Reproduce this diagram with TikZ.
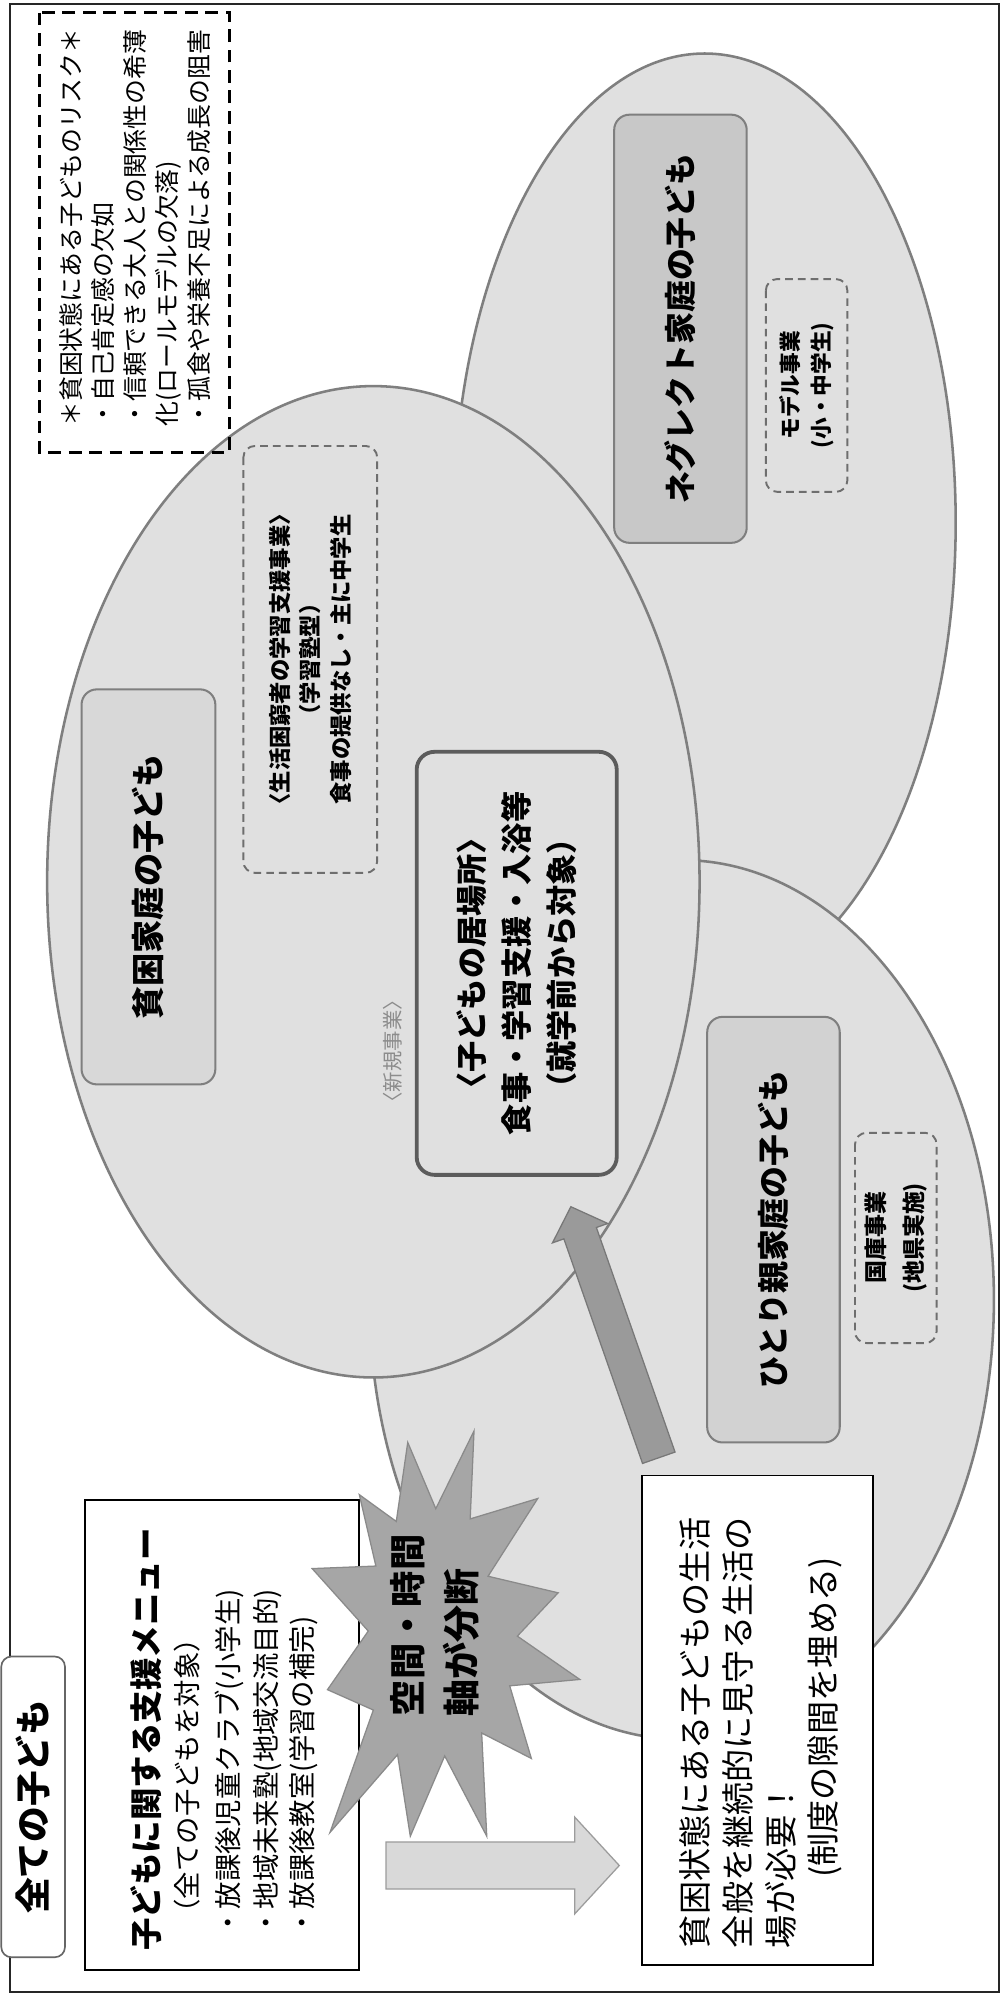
\documentclass[tikz,border=0pt]{standalone}
\usepackage{fontspec}
\setmainfont{Noto Sans CJK JP}
\usetikzlibrary{calc}
\newcommand\fsz[2]{\fontsize{#1}{#2}\selectfont}
\definecolor{ellfill}{HTML}{E0E0E0}
\definecolor{ellline}{HTML}{7F7F7F}
\definecolor{labfillA}{HTML}{C8C8C8}
\definecolor{labfillB}{HTML}{D2D2D2}
\definecolor{labfillC}{HTML}{D8D8D8}
\definecolor{dashline}{HTML}{6E6E6E}
\definecolor{burstfill}{HTML}{A6A6A6}
\definecolor{burstline}{HTML}{8A8A8A}
\definecolor{darkarr}{HTML}{9A9A9A}
\definecolor{darkarrline}{HTML}{787878}
\definecolor{lightarr}{HTML}{D9D9D9}
\definecolor{lightarrline}{HTML}{9C9C9C}
\definecolor{ibaline}{HTML}{5C5C5C}
\begin{document}
\begin{tikzpicture}[x=1pt,y=-1pt,
  ell/.style={fill=ellfill,draw=ellline,line width=2pt},
  labbox/.style={rotate=90,draw=ellline,line width=1.6pt,rounded corners=12pt,inner sep=0pt,font=\bfseries\fsz{25}{30}},
  subbox/.style={rotate=90,draw=dashline,dash pattern=on 6pt off 4pt,line width=1.5pt,rounded corners=9pt,inner sep=0pt,align=center},
  txt/.style={rotate=90,inner sep=0pt,anchor=west},
  whitebox/.style={rotate=90,draw=black,fill=white,line width=1.4pt,inner sep=0pt}
]
\useasboundingbox (0,0) rectangle (789,1568);
\fill[white] (0,0) rectangle (789,1568);
% outer frame
\draw[line width=1.5pt,black!85] (8,3) rectangle (784,1563);

% ellipses
\coordinate (negE) at (553,410);
\draw[ell] (negE) ellipse [x radius=197, y radius=368];
\coordinate (hitE) at (535,1020);
\draw[ell] (hitE) ellipse [x radius=245, y radius=345];
\coordinate (povE) at (293,692);
\draw[ell] (povE) ellipse [x radius=256, y radius=389];

% risk box
\draw[black,line width=2.4pt,dash pattern=on 10pt off 6pt] (31,10) rectangle (180,355);
\node[txt,align=left,font=\fsz{19.5}{25}] (risk) at (106,335)
 {＊貧困状態にある子どものリスク＊\\・自己肯定感の欠如\\・信頼できる大人との関係性の希薄\\化(ロールモデルの欠落)\\・孤食や栄養不足による成長の阻害};

% neglect
\node[labbox,fill=labfillA,minimum width=336pt,minimum height=104pt] (neg) at (534,258) {ネグレクト家庭の子ども};
\node[subbox,minimum width=167pt,minimum height=64pt,font=\bfseries\fsz{17}{24}] (model) at (633,302.5) {モデル事業\\(小・中学生)};

% single parent
\node[labbox,fill=labfillB,minimum width=334pt,minimum height=104pt] (hit) at (607,965) {ひとり親家庭の子ども};
\node[subbox,minimum width=165pt,minimum height=64pt,font=\bfseries\fsz{18}{30}] (kokko) at (703,971.5) {国庫事業\\(地県実施)};

% poverty
\node[labbox,fill=labfillC,minimum width=310pt,minimum height=105pt,font=\bfseries\fsz{26}{30}] (pov) at (116.5,696) {貧困家庭の子ども};
\node[subbox,minimum width=335pt,minimum height=105pt,font=\bfseries\fsz{17.5}{24}] (gakushu) at (243.5,517.5)
 {〈生活困窮者の学習支援事業〉\\（学習塾型）\\食事の提供なし・主に中学生};
\node[rotate=90,inner sep=0pt,text=black!45,font=\fsz{16}{20}] (shinki) at (308,825) {〈新規事業〉};
\node[rotate=90,draw=ibaline,fill=ellfill,line width=3pt,rounded corners=14pt,inner sep=0pt,
  minimum width=332pt,minimum height=157pt,align=center,font=\bfseries\fsz{24.5}{35.5}] (iba) at (405.5,756)
 {〈子どもの居場所〉\\食事・学習支援・入浴等\\（就学前から対象）};

% need box
\node[whitebox,minimum width=384pt,minimum height=181pt] (need) at (594.5,1350) {};
\node[txt,font=\fsz{26}{30}] (need1) at (545,1529) {貧困状態にある子どもの生活};
\node[txt,font=\fsz{26}{30}] (need2) at (579,1529) {全般を継続的に見守る生活の};
\node[txt,font=\fsz{26}{30}] (need3) at (613,1529) {場が必要！};
\node[txt,font=\fsz{26}{30}] (need4) at (647,1474) {(制度の隙間を埋める)};

% menu box
\node[whitebox,minimum width=369pt,minimum height=215pt] (menu) at (174.5,1361.5) {};
\node[txt,font=\bfseries\fsz{25.5}{30}] (menu1) at (115,1531) {子どもに関する支援メニュー};
\node[txt,font=\fsz{21.5}{26}] (menu2) at (147,1512) {（全ての子どもを対象）};
\node[txt,font=\fsz{21.5}{26}] (menu3) at (180,1520) {・放課後児童クラブ(小学生)};
\node[txt,font=\fsz{21.5}{26}] (menu4) at (210,1520) {・地域未来塾(地域交流目的)};
\node[txt,font=\fsz{21.5}{26}] (menu5) at (238,1520) {・放課後教室(学習の補完)};

% all children label
\node[rotate=90,draw=black!60,fill=white,line width=1.3pt,rounded corners=8pt,inner sep=0pt,
  minimum width=236pt,minimum height=50pt,font=\bfseries\fsz{28}{30}] (all) at (26,1418) {全ての子ども};

% dark arrow from need box to ibasho box
\coordinate (dt) at (517,1144);
\coordinate (dh) at (448,947);
\coordinate (dn) at ($(dh)!22pt!(dt)$);
\filldraw[fill=darkarr,draw=darkarrline,line width=1pt]
  ($(dt)!13.5pt!90:(dh)$) -- ($(dn)!13.5pt!90:(dh)$) -- ($(dn)!23pt!90:(dh)$) -- (dh)
  -- ($(dn)!23pt!-90:(dh)$) -- ($(dn)!13.5pt!-90:(dh)$) -- ($(dt)!13.5pt!-90:(dh)$) -- cycle;

% starburst
\begin{scope}[shift={(345,1283)}]
\filldraw[fill=burstfill,draw=burstline,line width=1pt]
 (-25,-151) -- (-3,-99) -- (27,-160) -- (24,-91) -- (77,-107) -- (38,-46) -- (93,-33) -- (61,1)
 -- (110,35) -- (55,40) -- (72,97) -- (33,77) -- (37,158) -- (4,95) -- (-23,158) -- (-33,94)
 -- (-86,155) -- (-52,59) -- (-88,43) -- (-56,-3) -- (-100,-52) -- (-50,-54) -- (-63,-110) -- (-34,-89) -- cycle;
\end{scope}
\node[txt,font=\bfseries\fsz{28.5}{30}] (burst1) at (320,1347) {空間・時間};
\node[txt,font=\bfseries\fsz{29}{30}] (burst2) at (362,1347) {軸が分断};

% light arrow from menu to need box
\coordinate (lt) at (303,1464);
\coordinate (lh) at (486,1464);
\coordinate (ln) at ($(lh)!35pt!(lt)$);
\filldraw[fill=lightarr,draw=lightarrline,line width=1pt]
  ($(lt)!18.5pt!90:(lh)$) -- ($(ln)!18.5pt!90:(lh)$) -- ($(ln)!38pt!90:(lh)$) -- (lh)
  -- ($(ln)!38pt!-90:(lh)$) -- ($(ln)!18.5pt!-90:(lh)$) -- ($(lt)!18.5pt!-90:(lh)$) -- cycle;
\end{tikzpicture}
\end{document}
